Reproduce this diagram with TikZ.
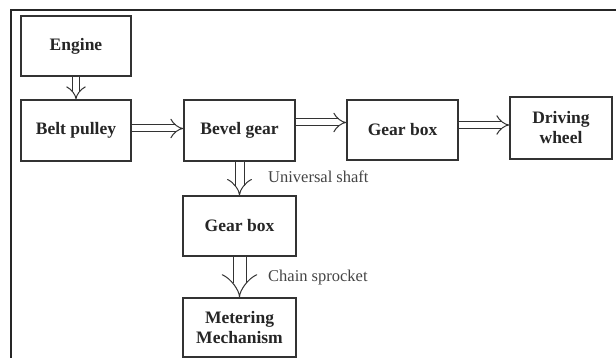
\documentclass[tikz,border=0pt]{standalone}
\usepackage{fontspec}
\setmainfont{Liberation Serif}
\usepackage{tikz}
\usetikzlibrary{arrows.meta}
\usepackage{xcolor}
\definecolor{boxline}{HTML}{333333}
\definecolor{labeltext}{HTML}{444444}
\tikzset{
	block/.style={draw=boxline,line width=1.4pt,fill=white,inner sep=2pt,align=center,font=\fontsize{17.5}{20}\selectfont\bfseries,text=black!85},
	shaft/.style={draw=boxline,double,double distance=6pt,line width=1pt,-{Implies[scale=1.3]}},
	tag/.style={anchor=west,inner sep=0pt,text=labeltext,font=\fontsize{16.5}{19}\selectfont}
}

\begin{document}
\begin{tikzpicture}[x=1pt,y=-1pt]
	\clip (0,0) rectangle (616,358);
	\draw[line width=2pt,black!85] (11,10) rectangle (640,380);
	\node[block,minimum width=110pt,minimum height=60pt] (engine) at (76,46) {Engine};
	\node[block,minimum width=110pt,minimum height=61pt] (belt) at (76,130.5) {Belt pulley};
	\node[block,minimum width=111pt,minimum height=61pt] (bevel) at (239.5,130.5) {Bevel gear};
	\node[block,minimum width=111pt,minimum height=60pt] (gbox1) at (402.5,130) {Gear box};
	\node[block,minimum width=102pt,minimum height=62pt] (wheel) at (561,128) {Driving\\wheel};
	\node[block,minimum width=113pt,minimum height=60pt] (gbox2) at (239.5,226) {Gear box};
	\node[block,minimum width=113pt,minimum height=59pt] (meter) at (239.5,327.5) {Metering\\Mechanism};
	%\draw (engine) to (belt);
	\draw[shaft] (engine) -- (belt);
	\draw[shaft] ([yshift=2pt]belt.east) -- ([yshift=2pt]belt.east -| bevel.west);
	\draw[shaft] ([yshift=8pt]bevel.east) -- ([yshift=8pt]bevel.east -| gbox1.west);
	\draw[shaft] ([yshift=5pt]gbox1.east) -- ([yshift=5pt]gbox1.east -| wheel.west);
	\draw[shaft,double distance=8pt] (bevel) -- (gbox2);
	\draw[shaft,double distance=12pt] (gbox2) -- (meter);
	\node[tag] (ushaft) at (268,177) {Universal shaft};
	\node[tag] (chain) at (268,278) {Chain sprocket};
\end{tikzpicture}
\end{document}
